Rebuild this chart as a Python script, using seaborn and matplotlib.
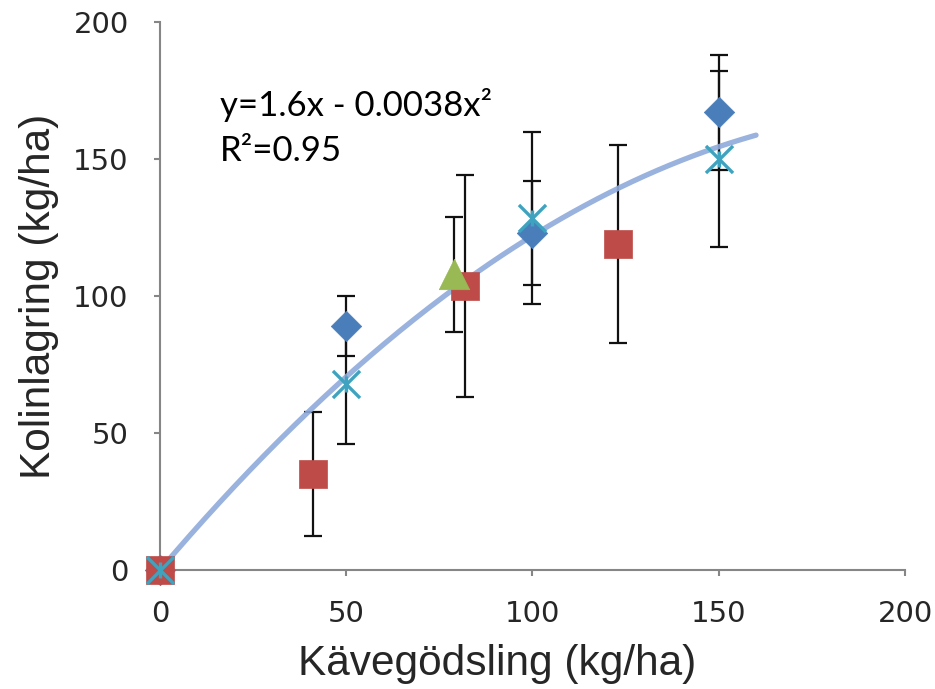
import numpy as np
import pandas as pd
import matplotlib
matplotlib.use("Agg")
import matplotlib.pyplot as plt
import seaborn as sns

# series (x = kg N/ha, y = kg C/ha, err = +/-)
diamond_x = [0, 50, 100, 150]
diamond_y = [0, 89, 123, 167]
diamond_err = [0, 11, 19, 21]

square_x = [0, 41, 82, 123]
square_y = [0, 35, 103.5, 119]
square_err = [0, 22.5, 40.5, 36]

triangle_x = [79]
triangle_y = [108]
triangle_err = [21]

star_x = [0, 50, 100, 150]
star_y = [0, 68, 128.5, 150]
star_err = [0, 22, 31.5, 32]

# trend line coefficients as printed on the chart: y = a*x + b*x^2
trend_coef = [1.6, -0.0038]
trend_xmax = 160

x_ticks = [0, 50, 100, 150, 200]
y_ticks = [0, 50, 100, 150, 200]


def main():
    sns.set_theme(style="white")
    plt.rcParams["font.family"] = ["DejaVu Sans"]

    fig = plt.figure(figsize=(9.35, 6.89), dpi=100)
    ax = fig.add_axes([0.171, 0.1727, 0.797, 0.7953])

    series = [
        ("diamond", diamond_x, diamond_y, diamond_err, "D", "#4A7EBB", 240),
        ("square", square_x, square_y, square_err, "s", "#BE4B48", 390),
        ("triangle", triangle_x, triangle_y, triangle_err, "^", "#98B954", 480),
        ("star", star_x, star_y, star_err, "x", "#3DA3BF", 380),
    ]

    # error bars first (below everything)
    for name, xs, ys, errs, mk, col, sz in series:
        ax.errorbar(xs, ys, yerr=errs, fmt="none", ecolor="#111111",
                    elinewidth=1.6, capsize=6.5, capthick=1.6, zorder=1)

    # trend line
    tx = np.linspace(0, trend_xmax, 200)
    ty = trend_coef[0] * tx + trend_coef[1] * tx ** 2
    sns.lineplot(x=tx, y=ty, ax=ax, color="#8EAADB", linewidth=3.8,
                 alpha=0.9, zorder=2)

    # markers
    for name, xs, ys, errs, mk, col, sz in series:
        df = pd.DataFrame({"x": xs, "y": ys})
        if mk == "x":
            sns.scatterplot(data=df, x="x", y="y", ax=ax, marker="x", s=sz,
                            color=col, linewidth=2.4, zorder=3)
            sns.scatterplot(data=df, x="x", y="y", ax=ax, marker="|", s=120,
                            color=col, linewidth=2.4, zorder=3)
        else:
            sns.scatterplot(data=df, x="x", y="y", ax=ax, marker=mk, s=sz,
                            color=col, edgecolor=col, linewidth=0.5, zorder=3)

    ax.set_xlim(0, 200)
    ax.set_ylim(0, 200)
    ax.set_xticks(x_ticks)
    ax.set_yticks(y_ticks)
    ax.tick_params(axis="both", labelsize=21, colors="#868686",
                   labelcolor="#262626", length=4.5, width=1.5,
                   direction="out", bottom=True, left=True)
    ax.tick_params(axis="x", pad=17)
    ax.tick_params(axis="y", pad=18)
    for lab in ax.get_xticklabels() + ax.get_yticklabels():
        lab.set_family("DejaVu Sans")
    for c in ax.collections + ax.lines:
        c.set_clip_on(False)

    for side in ["top", "right"]:
        ax.spines[side].set_visible(False)
    for side in ["left", "bottom"]:
        ax.spines[side].set_color("#868686")
        ax.spines[side].set_linewidth(1.5)

    ax.set_xlabel("Kävegödsling (kg/ha)", fontsize=30.5,
                  family="Liberation Sans")
    ax.xaxis.set_label_coords(0.453, -0.135)
    ax.set_ylabel("Kolinlagring (kg/ha)", fontsize=30.5,
                  family="Liberation Sans", labelpad=10)

    ax.text(16.2, 176, "y=1.6x - 0.0038x²\nR²=0.95", fontsize=25,
            family="Lato", va="top", ha="left", linespacing=1.5,
            color="black")

    fig.savefig("out.png", dpi=100)


if __name__ == "__main__":
    main()
